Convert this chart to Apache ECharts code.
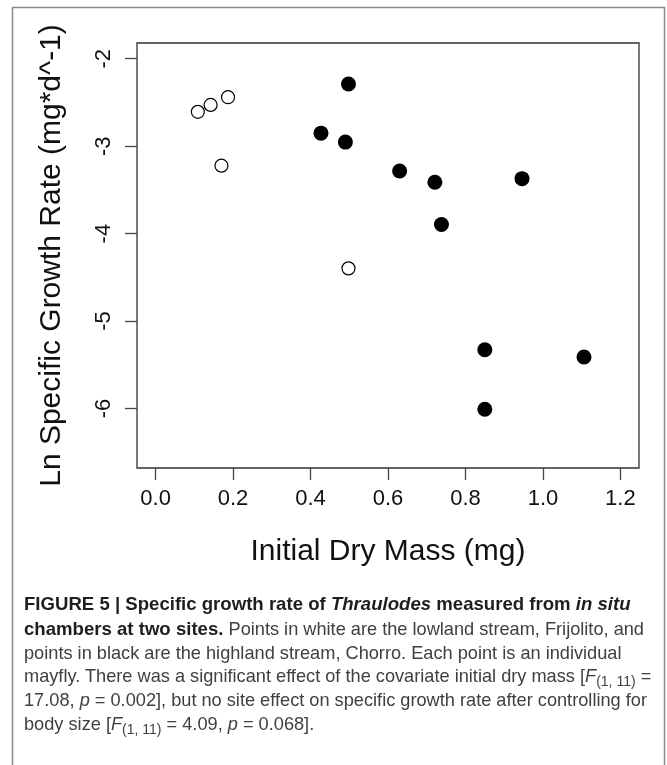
<!DOCTYPE html>
<html>
<head>
<meta charset="utf-8">
<script src="https://cdn.jsdelivr.net/npm/echarts@6/dist/echarts.min.js"></script>
<style>
  html, body { margin: 0; padding: 0; background: #fff; }
  #wrap { position: relative; width: 667px; height: 765px; overflow: hidden; }
  #chart { position: absolute; left: 0; top: 0; width: 667px; height: 765px; }
  #caption {
    position: absolute; left: 24px; top: 592px; width: 636px;
    font-family: "Liberation Sans", Arial, sans-serif;
    font-size: 18.2px; line-height: 23.8px; color: #404040; white-space: nowrap;
  }
  #caption b { color: #1e1e1e; font-size: 18.6px; }
  #caption sub { font-size: 14px; vertical-align: -4px; line-height: 0; }
</style>
</head>
<body>
<div id="wrap">
  <div id="chart"></div>
  <div id="caption">
    <b>FIGURE 5 | Specific growth rate of <i>Thraulodes</i> measured from <i>in situ</i></b><br>
    <b>chambers at two sites.</b> Points in white are the lowland stream, Frijolito, and<br>
    points in black are the highland stream, Chorro. Each point is an individual<br>
    mayfly. There was a significant effect of the covariate initial dry mass [<i>F</i><sub>(1, 11)</sub> =<br>
    17.08, <i>p</i> = 0.002], but no site effect on specific growth rate after controlling for<br>
    body size [<i>F</i><sub>(1, 11)</sub> = 4.09, <i>p</i> = 0.068].
  </div>
</div>
<script>
// Frijolito (lowland, open circles)
var lowMass = [0.109, 0.142, 0.187, 0.170, 0.498];
var lowRate = [-2.607, -2.528, -2.440, -3.223, -4.397];
// Chorro (highland, filled circles)
var highMass = [0.498, 0.427, 0.490, 0.630, 0.721, 0.946, 0.738, 0.850, 1.106, 0.850];
var highRate = [-2.289, -2.851, -2.953, -3.284, -3.413, -3.371, -3.895, -5.328, -5.411, -6.008];

var xTicks = [0, 0.2, 0.4, 0.6, 0.8, 1.0, 1.2];
var yTicks = [-6, -5, -4, -3, -2];

function pairs(xs, ys) {
  return xs.map(function (x, i) { return [x, ys[i]]; });
}

var chart = echarts.init(document.getElementById('chart'));
var font = '"Liberation Sans", Arial, sans-serif';

var option = {
  animation: false,
  graphic: [{
    type: 'rect',
    shape: { x: 12.5, y: 7.5, width: 652, height: 800 },
    style: { fill: null, stroke: '#8a8a8a', lineWidth: 1.5 },
    silent: true
  }],
  grid: {
    left: 137, top: 43, right: 28, bottom: 297,
    show: true, borderColor: '#333', borderWidth: 1.3, backgroundColor: 'transparent'
  },
  xAxis: {
    type: 'value', min: -0.048, max: 1.248,
    name: 'Initial Dry Mass (mg)', nameLocation: 'middle', nameGap: 69,
    nameTextStyle: { fontFamily: font, fontSize: 30, color: '#111' },
    splitLine: { show: false },
    axisLine: { show: false, onZero: false },
    axisTick: { show: true, length: 12, customValues: xTicks, lineStyle: { color: '#444', width: 1.3 } },
    axisLabel: {
      customValues: xTicks, margin: 20, fontFamily: font, fontSize: 22, color: '#111',
      formatter: function (v) { return v.toFixed(1); }
    }
  },
  yAxis: {
    type: 'value', min: -6.68, max: -1.82,
    name: 'Ln Specific Growth Rate (mg*d^-1)', nameLocation: 'middle', nameGap: 70,
    nameTextStyle: { fontFamily: font, fontSize: 30, color: '#111' },
    splitLine: { show: false },
    axisLine: { show: false, onZero: false },
    axisTick: { show: true, length: 12, customValues: yTicks, lineStyle: { color: '#444', width: 1.3 } },
    axisLabel: {
      customValues: yTicks, margin: 22, rotate: 90, align: 'center', verticalAlign: 'bottom',
      fontFamily: font, fontSize: 22, color: '#111'
    }
  },
  series: [{
    name: 'Frijolito', type: 'scatter', symbol: 'circle', symbolSize: 13,
    itemStyle: { color: '#fff', borderColor: '#000', borderWidth: 1.2, opacity: 1 },
    data: pairs(lowMass, lowRate)
  }, {
    name: 'Chorro', type: 'scatter', symbol: 'circle', symbolSize: 15,
    itemStyle: { color: '#000', opacity: 1 },
    data: pairs(highMass, highRate)
  }]
};

chart.setOption(option);
</script>
</body>
</html>
